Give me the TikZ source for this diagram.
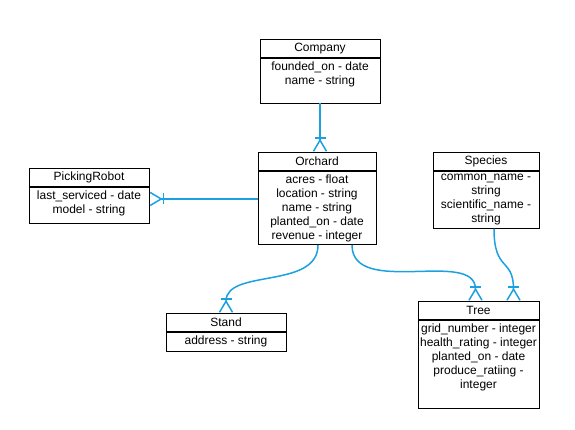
\documentclass[tikz,border=0pt]{standalone}
\usepackage{fontspec}
\setmainfont{Liberation Sans}
\usepackage{xcolor}
\definecolor{linkblue}{HTML}{1BA1E2}
\usetikzlibrary{arrows.meta,positioning}
\tikzset{
  entityhead/.style={draw,line width=0.9pt,anchor=north,minimum width=#1,minimum height=18pt,inner sep=1pt},
  entitybody/.style={draw,line width=0.9pt,align=center,minimum width=#1,inner xsep=1pt,inner ysep=3pt},
  manylink/.style={line width=1.5pt,linkblue,-{Bar[width=11pt,sep=0pt]Straight Barb[reversed,length=11pt,width=13pt]}}
}

\begin{document}
\begin{tikzpicture}[x=1pt,y=-1pt,font=\fontsize{12}{14}\selectfont]
\useasboundingbox (0,0) rectangle (575,429);
% entities
\node[entityhead=120pt] (company) at (320,39) {Company};
\node[entitybody=120pt,below=0pt of company,text depth=16pt] (company-attr) {founded\_on - date\\name - string};
\node[entityhead=118pt] (orchard) at (317,152) {Orchard};
\node[entitybody=118pt,below=0pt of orchard] (orchard-attr) {acres - float\\location - string\\name - string\\planted\_on - date\\revenue - integer};
\node[entityhead=120pt] (robot) at (89,168) {PickingRobot};
\node[entitybody=120pt,below=0pt of robot,text depth=7pt] (robot-attr) {last\_serviced - date\\model - string};
\node[entityhead=106pt] (species) at (486,152) {Species};
\node[entitybody=106pt,below=0pt of species] (species-attr) {common\_name -\\string\\scientific\_name -\\string};
\node[entityhead=120pt] (stand) at (226,313) {Stand};
\node[entitybody=120pt,below=0pt of stand,text depth=4pt] (stand-attr) {address - string};
\node[entityhead=121pt] (tree) at (478.5,301) {Tree};
\node[entitybody=121pt,below=0pt of tree,text depth=17pt] (tree-attr) {grid\_number - integer\\health\_rating - integer\\planted\_on - date\\produce\_ratiing -\\integer};
% relations
\draw[manylink] (company-attr.south) -- (company-attr.south |- orchard.north);
\draw[manylink] ([yshift=9pt]orchard-attr.west) -- ([yshift=9pt]orchard-attr.west -| robot-attr.east);
\draw[manylink] ([xshift=1pt]orchard-attr.south) to[out=-90,in=90] (stand.north);
\draw[manylink] ([xshift=35pt]orchard-attr.south) to[out=-90,in=90] ([xshift=-3pt]tree.north);
\draw[manylink] ([xshift=8pt]species-attr.south) to[out=-90,in=90,looseness=1.5] ([xshift=35pt]tree.north);
\end{tikzpicture}
\end{document}
